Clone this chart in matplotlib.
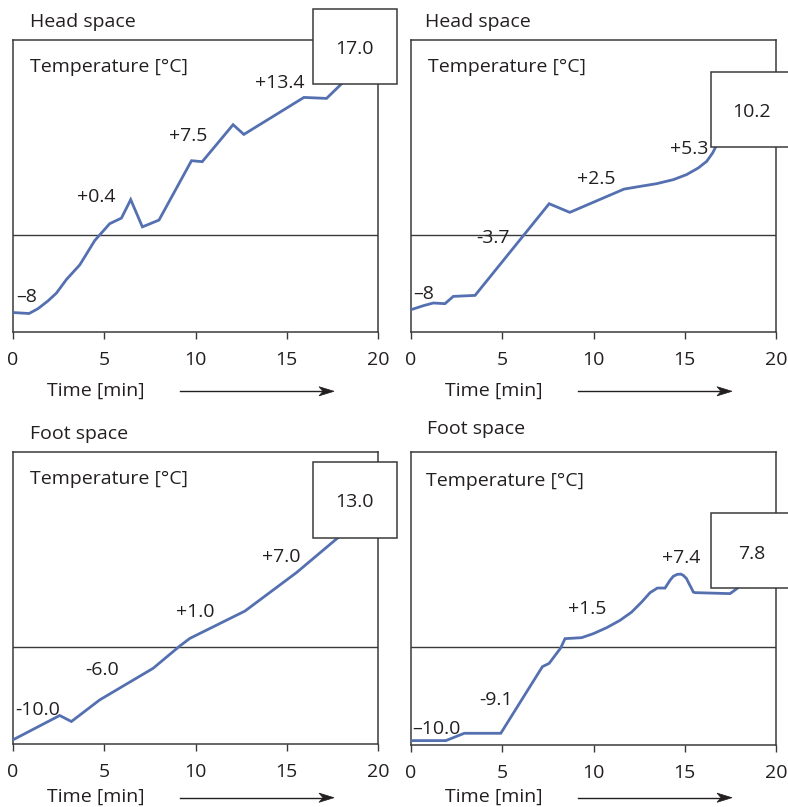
import matplotlib
matplotlib.use("Agg")
import matplotlib.pyplot as plt
from matplotlib.patches import Rectangle, Polygon
from matplotlib.lines import Line2D

plt.rcParams['font.family'] = ['Open Sans', 'DejaVu Sans']

# ---------------- data ----------------
x_ticks = [0, 5, 10, 15, 20]
x_tick_labels = ["0", "5", "10", "15", "20"]

panel_titles = ["Head space", "Head space", "Foot space", "Foot space"]
y_label_text = "Temperature [°C]"
x_label_text = "Time [min]"

# Head space, left
hs1_time = [0, 0.88, 1.37, 1.92, 2.38, 2.93, 3.66, 4.48, 5.30, 5.94, 6.45, 7.09, 8.0,
            9.78, 10.37, 12.06, 12.65, 15.94, 17.18, 17.95, 18.3]
hs1_temp = [-8.0, -8.1, -7.6, -6.8, -6.0, -4.6, -3.1, -0.6, 1.13, 1.7, 3.6, 0.8, 1.5,
            7.6, 7.5, 11.3, 10.3, 14.1, 14.0, 15.4, 16.1]
hs1_labels = ["\u20138", "+0.4", "+7.5", "+13.4"]
hs1_label_time = [0.75, 4.57, 9.6, 14.6]
hs1_label_temp = [-6.15, 4.03, 10.3, 15.8]
hs1_final = "17.0"

# Head space, right
hs2_time = [0, 0.67, 1.22, 1.86, 2.32, 3.51, 7.57, 8.7, 11.67, 12.55, 13.46, 14.37,
            15.1, 15.74, 16.2, 16.53, 16.71, 16.85]
hs2_temp = [-7.71, -7.3, -7.02, -7.09, -6.34, -6.24, 3.18, 2.29, 4.68, 4.96, 5.24, 5.65,
            6.17, 6.85, 7.53, 8.4, 9.07, 9.8]
hs2_labels = ["\u20138", "-3.7", "+2.5", "+5.3"]
hs2_label_time = [0.67, 4.5, 10.17, 15.26]
hs2_label_temp = [-5.9, -0.1, 5.9, 9.0]
hs2_final = "10.2"

# Foot space, left
fs1_time = [0, 2.56, 3.2, 4.75, 7.68, 9.14, 9.69, 12.71, 15.54, 17.79, 18.2]
fs1_temp = [-9.57, -7.07, -7.69, -5.47, -2.22, 0.07, 0.85, 3.66, 7.62, 11.17, 11.9]
fs1_labels = ["-10.0", "-6.0", "+1.0", "+7.0"]
fs1_label_time = [1.37, 4.88, 9.96, 14.68]
fs1_label_temp = [-6.32, -2.22, 3.76, 9.46]
fs1_final = "13.0"

# Foot space, right
fs2_time = [0, 1.91, 2.92, 4.92, 7.2, 7.57, 8.2, 8.44, 9.35, 9.99, 10.72, 11.45, 12.09,
            12.64, 13.10, 13.5, 13.92, 14.19, 14.37, 14.59, 14.78, 14.92, 15.1, 15.19,
            15.38, 15.47, 15.56, 17.48, 17.85, 18.1]
fs2_temp = [-9.55, -9.55, -8.8, -8.8, -1.98, -1.64, -0.07, 0.89, 0.99, 1.40, 2.01, 2.76, 3.61,
            4.64, 5.6, 6.07, 6.07, 6.86, 7.27, 7.47, 7.5, 7.37, 7.03, 6.68,
            6.0, 5.66, 5.6, 5.5, 6.0, 6.5]
fs2_labels = ["\u201310.0", "-9.1", "+1.5", "+7.4"]
fs2_label_time = [1.4, 4.65, 9.63, 14.8]
fs2_label_temp = [-8.18, -5.18, 4.09, 9.38]
fs2_final = "7.8"

# ---------------- layout ----------------
W, H = 788, 807
fig = plt.figure(figsize=(W / 100, H / 100), dpi=100)

LINE_C = '#5470B0'
DARK = '#3a3a3a'
TXT = '#231f20'
FS = 14


def fx(x):
    return x / W


def fy(y):
    return 1 - y / H


# axes boxes: (left, top, right, bottom) in pixels
ax_px = [(13, 40, 378, 332), (411, 40, 776, 332), (13, 452, 378, 744), (411, 452, 776, 745)]
title_px = [(30, 27.3), (424.7, 27.3), (30, 439.3), (427.3, 434)]
ylab_ax = [(0.047, 0.914), (0.047, 0.914), (0.047, 0.915), (0.042, 0.908)]
xlab_px = [(47, 396), (444.7, 396), (47, 802), (444.7, 802)]
arrow_px = [(180, 334, 391.3), (578, 732, 391.3), (180, 334, 797.7), (578, 732, 797.7)]
box_px = [(313, 9, 397, 84), (711, 72, 792, 147), (313, 462, 397, 538), (711, 513, 792, 588)]
boxtxt_px = [(354, 47), (751.7, 110), (354, 500), (751.7, 551.7)]

series = [
    (hs1_time, hs1_temp, hs1_labels, hs1_label_time, hs1_label_temp, hs1_final),
    (hs2_time, hs2_temp, hs2_labels, hs2_label_time, hs2_label_temp, hs2_final),
    (fs1_time, fs1_temp, fs1_labels, fs1_label_time, fs1_label_temp, fs1_final),
    (fs2_time, fs2_temp, fs2_labels, fs2_label_time, fs2_label_temp, fs2_final),
]

for i, (t, v, labs, lt, lv, final) in enumerate(series):
    l, tp, r, b = ax_px[i]
    ax = fig.add_axes([fx(l), fy(b), (r - l) / W, (b - tp) / H])
    ax.set_xlim(0, 20)
    ax.set_ylim(-10, 20)
    ax.plot(t, v, color=LINE_C, lw=2.0, solid_joinstyle='miter', zorder=3)
    ax.axhline(0, color=DARK, lw=1.0, zorder=2)
    for s in ax.spines.values():
        s.set_color(DARK)
        s.set_linewidth(1.1)
    ax.set_xticks(x_ticks)
    ax.set_xticklabels(x_tick_labels, fontsize=FS, color=TXT)
    ax.set_yticks([])
    ax.tick_params(axis='x', direction='out', length=5, width=1.0, color=DARK, pad=9)
    for s, xx, yy in zip(labs, lt, lv):
        ax.text(xx, yy, s, fontsize=FS, color=TXT, ha='center', va='center_baseline', zorder=4)
    ax.text(ylab_ax[i][0], ylab_ax[i][1], y_label_text, transform=ax.transAxes,
            fontsize=FS, color=TXT, ha='left', va='center_baseline')

    fig.text(fx(title_px[i][0]), fy(title_px[i][1]), panel_titles[i], fontsize=FS,
             color=TXT, ha='left', va='baseline')
    fig.text(fx(xlab_px[i][0]), fy(xlab_px[i][1]), x_label_text, fontsize=FS,
             color=TXT, ha='left', va='baseline')

    # arrow: shaft + stealth head
    x0, x1, ya = arrow_px[i]
    fig.add_artist(Line2D([fx(x0), fx(x1 - 10)], [fy(ya), fy(ya)], transform=fig.transFigure,
                          color=TXT, lw=1.0))
    head = Polygon([(fx(x1), fy(ya)), (fx(x1 - 15), fy(ya - 4.6)), (fx(x1 - 11), fy(ya)),
                    (fx(x1 - 15), fy(ya + 4.6))], closed=True, transform=fig.transFigure,
                   facecolor=TXT, edgecolor=TXT, lw=0.5)
    fig.add_artist(head)

    bl, bt, br, bb = box_px[i]
    rect = Rectangle((fx(bl), fy(bb)), (br - bl) / W, (bb - bt) / H, transform=fig.transFigure,
                     facecolor='white', edgecolor=DARK, lw=1.1, zorder=10, clip_on=False)
    fig.add_artist(rect)
    tx, ty = boxtxt_px[i]
    fig.text(fx(tx), fy(ty), final, fontsize=FS, color=TXT, ha='center',
             va='center_baseline', zorder=11)

fig.savefig("out.png", dpi=100)
